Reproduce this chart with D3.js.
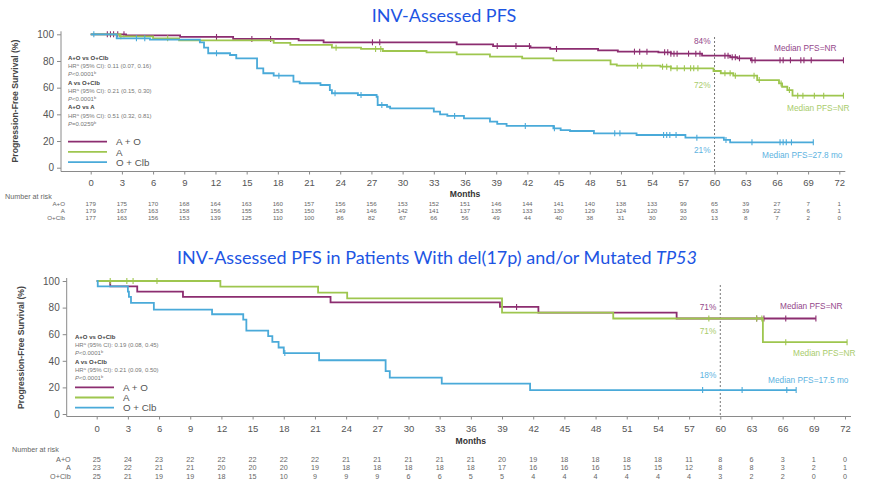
<!DOCTYPE html>
<html>
<head>
<meta charset="utf-8">
<script src="https://cdn.jsdelivr.net/npm/d3@7"></script>
<style>
body { margin: 0; background: #fff; }
svg text { font-family: "Liberation Sans", Arial, sans-serif; }
</style>
</head>
<body>
<div id="chart"></div>
<script>
'use strict'

////////////////////////////////////
//////////////// data //////////////
////////////////////////////////////

const months = [0, 3, 6, 9, 12, 15, 18, 21, 24, 27, 30, 33, 36, 39, 42, 45, 48, 51, 54, 57, 60, 63, 66, 69, 72]
const pctTicks = [0, 20, 40, 60, 80, 100]
const groups = ['A + O', 'A', 'O + Clb']
const riskLabels = ['A+O', 'A', 'O+Clb']

// top panel: all patients, [month, % PFS] at each step
const topAO = [[0,100],[3.4,99.2],[8.6,98],[13.7,96.5],[20,95.5],[22.4,94],[35.2,92.5],[38.7,91.2],[42.3,90],[44.2,89],[48.8,88],[50.7,87],[54.6,86.5],[55.8,85.5],[58.8,84],[61.5,82.8],[62.2,82],[63.5,80.5],[72.4,80.5]]
const topA = [[0,100],[2.8,98.5],[6,97],[8.5,95.5],[17.6,93.5],[19.2,92],[23.2,90],[26,89],[28.1,87.5],[32.3,86.5],[35.2,85],[38.4,83.2],[41.5,82],[44.5,80.5],[50,77.5],[50.6,76.5],[54.8,75.7],[55.8,74.5],[59.9,72.5],[60.6,70.8],[61.8,69],[64.1,65.7],[66.2,63.2],[66.5,60.7],[67,58.2],[67.5,54],[72.4,54]]
const topOC = [[0,100],[2.5,97],[5.7,96],[10.5,94],[10.9,90],[11.3,85.8],[13.4,84.5],[14,82],[16,74.5],[16.6,70.8],[17.6,69],[19.5,64.5],[20.1,63.3],[22.1,62],[23,58.2],[23.2,55.8],[25.7,54.5],[27.5,53.2],[27.6,47],[28.5,45.7],[28.8,44.5],[33,42],[33.6,40],[34.3,38.8],[35.9,37],[38.4,34.5],[39.1,32.8],[40,31.3],[44.5,29.5],[45.2,28.2],[46.1,27.5],[48.4,25.8],[52.5,24.5],[57.2,22.5],[60.9,20.8],[61.5,19],[69.5,19]]

const topAOCens = [1.6, 1.9, 2.2, 2.6, 3.2, 12.1, 15.5, 17.3, 27.1, 27.8, 39.1, 40.9, 42.2, 44.8, 52.3, 52.8, 53.5, 55.2, 55.5, 55.8, 56.1, 56.4, 57.5, 58.2, 58.6, 61, 61.3, 61.7, 62, 62.4, 63.6, 63.9, 66.3, 66.6, 67.3, 68.3, 68.6, 69.3, 72.4]
const topACens = [2.9, 7.4, 23.6, 27.4, 27.9, 52.6, 53, 55, 55.4, 55.8, 56.4, 57.1, 57.7, 58, 58.4, 61, 61.5, 62, 63.8, 64.3, 66.4, 67.2, 68, 68.5, 69.6, 70.5, 72.4]
const topOCCens = [0.3, 4.4, 5.2, 12.1, 18.1, 23.5, 26, 28, 35, 41.8, 44.6, 50.4, 50.9, 55.1, 55.4, 55.7, 56.3, 58.3, 61.1, 63.6, 66.3, 66.6, 66.9, 67.4, 69.5]

const topRiskAO = [179, 175, 170, 168, 164, 163, 160, 157, 156, 156, 153, 152, 151, 146, 144, 141, 140, 138, 133, 99, 65, 39, 27, 7, 1]
const topRiskA = [179, 167, 163, 158, 156, 155, 153, 150, 149, 146, 142, 141, 137, 135, 133, 130, 129, 124, 120, 93, 63, 39, 22, 6, 1]
const topRiskOC = [177, 163, 156, 153, 139, 125, 110, 100, 86, 82, 67, 66, 56, 49, 44, 40, 38, 31, 30, 20, 13, 8, 7, 2, 0]

const topStats = [
    ['A+O vs O+Clb', '0.11 (0.07, 0.16)', '<0.0001'],
    ['A vs O+Clb', '0.21 (0.15, 0.30)', '<0.0001'],
    ['A+O vs A', '0.51 (0.32, 0.81)', '=0.0259']
]
const topAt60 = ['84%', '72%', '21%']
const topMedian = ['Median PFS=NR', 'Median PFS=NR', 'Median PFS=27.8 mo']

// bottom panel: del(17p) and/or mutated TP53
const botAO = [[0,100],[1.3,96],[3.9,92],[8.3,88],[22.5,84],[38.8,80.5],[42.5,76.2],[55.8,71.8],[69.2,71.8]]
const botA = [[0,100],[11.9,95.7],[21.3,91.3],[24.1,87],[39,76.2],[49.7,71.8],[64.1,54],[72.2,54]]
const botOC = [[0,100],[0.1,96],[3,92],[3.1,88],[3.3,83.5],[5.5,78.5],[11.1,75],[14.1,71],[14.4,62.7],[16.5,58.5],[16.9,54.2],[17.5,50],[18,45.8],[21.4,40.4],[27.8,32.3],[28.2,27.3],[33.2,22.8],[41.7,18],[67.3,18]]

const botAOCens = [40.4, 63.5, 64.2, 66.3, 69.2]
const botACens = [1.3, 2.9, 3.5, 5.8, 58.9, 63.5, 64, 66.3, 72.2]
const botOCCens = [18.1, 58.3, 62.1, 66.4, 67.3]

const botRiskAO = [25, 24, 23, 22, 22, 22, 22, 22, 21, 21, 21, 21, 21, 20, 19, 18, 18, 18, 18, 11, 8, 6, 3, 1, 0]
const botRiskA = [23, 22, 21, 21, 20, 20, 20, 19, 18, 18, 18, 18, 18, 17, 16, 16, 16, 15, 15, 12, 8, 8, 3, 2, 1]
const botRiskOC = [25, 21, 19, 19, 18, 15, 10, 9, 9, 9, 6, 6, 5, 5, 4, 4, 4, 4, 4, 4, 3, 2, 2, 0, 0]

const botStats = [
    ['A+O vs O+Clb', '0.19 (0.08, 0.45)', '<0.0001'],
    ['A vs O+Clb', '0.21 (0.09, 0.50)', '<0.0001']
]
const botAt60 = ['71%', '71%', '18%']
const botMedian = ['Median PFS=NR', 'Median PFS=NR', 'Median PFS=17.5 mo']

////////////////////////////////////
/////////////// setup //////////////
////////////////////////////////////

const lineColors = ['#8c2d70', '#9ec64f', '#4aaad9']
const textColors = ['#94478a', '#a9cc6c', '#5db3df']

const svg = d3.select('#chart')
    .append('svg')
    .attr('width', 870)
    .attr('height', 483)

svg.append('text')
    .attr('x', 444).attr('y', 22)
    .attr('text-anchor', 'middle')
    .style('font-family', 'Lato, "Open Sans", sans-serif')
    .style('font-size', '18px')
    .attr('fill', '#1d55e3')
    .text('INV-Assessed PFS')

const t2 = svg.append('text')
    .attr('x', 437).attr('y', 264)
    .attr('text-anchor', 'middle')
    .style('font-family', 'Lato, "Open Sans", sans-serif')
    .style('font-size', '18px')
    .attr('fill', '#1d55e3')
t2.append('tspan').text('INV-Assessed PFS in Patients With del(17p) and/or Mutated ')
t2.append('tspan').style('font-style', 'italic').text('TP53')

function valueAt(curve, t) {
    let v = curve[0][1]
    curve.forEach(d => { if (d[0] <= t) v = d[1] })
    return v
}

function drawPanel(p) {
    const g = svg.append('g')

    const x = d3.scaleLinear().domain([0, 72]).range([p.x0, p.x1])
    const y = d3.scaleLinear().domain([0, 100]).range([p.yb, p.yt])

    // y axis
    const ya = g.append('g')
        .attr('transform', `translate(${p.axX},0)`)
        .call(d3.axisLeft(y).tickValues(pctTicks).tickSize(4).tickPadding(3))
    ya.select('.domain').remove()
    ya.selectAll('line').attr('stroke', '#8a8a8a')
    ya.selectAll('text').attr('fill', '#555').style('font-size', '10px')
    g.append('line')
        .attr('x1', p.axX).attr('x2', p.axX)
        .attr('y1', y(100) - 3).attr('y2', p.axY)
        .attr('stroke', '#8a8a8a')

    g.append('text')
        .attr('transform', `translate(${p.axX - 43},${(y(0) + y(100)) / 2}) rotate(-90)`)
        .attr('text-anchor', 'middle')
        .style('font-size', '8.6px')
        .style('font-weight', 'bold')
        .attr('fill', '#444')
        .text('Progression-Free Survival (%)')

    // x axis
    const xa = g.append('g')
        .attr('transform', `translate(0,${p.axY})`)
        .call(d3.axisBottom(x).tickValues(months).tickSize(3).tickPadding(p.tickPad))
    xa.select('.domain').remove()
    xa.selectAll('line').attr('stroke', '#8a8a8a')
    xa.selectAll('text').attr('fill', '#555').style('font-size', '9.5px')
    g.append('line')
        .attr('x1', p.axX).attr('x2', x(72) + 6)
        .attr('y1', p.axY).attr('y2', p.axY)
        .attr('stroke', '#8a8a8a')

    g.append('text')
        .attr('x', x(36)).attr('y', p.monthsY)
        .attr('text-anchor', 'middle')
        .style('font-size', '8.6px')
        .style('font-weight', 'bold')
        .attr('fill', '#333')
        .text('Months')

    // landmark at 60 months
    g.append('line')
        .attr('x1', x(60)).attr('x2', x(60))
        .attr('y1', p.dotTop).attr('y2', p.axY)
        .attr('stroke', '#777')
        .attr('stroke-width', 1)
        .attr('stroke-dasharray', '2,2')

    // curves
    const line = d3.line()
        .x(d => x(d[0]))
        .y(d => y(d[1]))
        .curve(d3.curveStepAfter)

    p.series.forEach((s, i) => {
        g.append('path')
            .datum(s.curve)
            .attr('d', line)
            .attr('fill', 'none')
            .attr('stroke', lineColors[i])
            .attr('stroke-width', 1.8)

        g.selectAll(null)
            .data(s.cens)
            .join('line')
            .attr('x1', d => x(d)).attr('x2', d => x(d))
            .attr('y1', d => y(valueAt(s.curve, d)) - 3)
            .attr('y2', d => y(valueAt(s.curve, d)) + 3)
            .attr('stroke', lineColors[i])
            .attr('stroke-width', 1.1)
    })

    // 60-month and median labels
    p.at60.forEach((t, i) => {
        g.append('text')
            .attr('x', x(60) - 4).attr('y', p.at60Y[i])
            .attr('text-anchor', 'end')
            .style('font-size', '8.3px')
            .attr('fill', textColors[i])
            .text(t)
        g.append('text')
            .attr('x', p.medX[i]).attr('y', p.medY[i])
            .style('font-size', '8.3px')
            .attr('fill', textColors[i])
            .text(p.median[i])
    })

    // stats box
    p.stats.forEach((s, i) => {
        const y0 = p.statY + i * 24.7
        g.append('text')
            .attr('x', p.legX).attr('y', y0)
            .style('font-size', '6px')
            .style('font-weight', 'bold')
            .attr('fill', '#444')
            .text(s[0])
        const hr = g.append('text')
            .attr('x', p.legX).attr('y', y0 + 8.3)
            .style('font-size', '6px')
            .attr('fill', '#777')
        hr.append('tspan').text('HR')
        hr.append('tspan').attr('dy', -2).style('font-size', '4px').text('a')
        hr.append('tspan').attr('dy', 2).text(' (95% CI): ' + s[1])
        const pv = g.append('text')
            .attr('x', p.legX).attr('y', y0 + 16.3)
            .style('font-size', '6px')
            .attr('fill', '#777')
        pv.append('tspan').style('font-style', 'italic').text('P')
        pv.append('tspan').text(s[2])
        pv.append('tspan').attr('dy', -2).style('font-size', '4px').text('b')
    })

    // legend
    groups.forEach((name, i) => {
        const ly = p.legY + i * 10.2
        g.append('line')
            .attr('x1', p.legX).attr('x2', p.legX + 39)
            .attr('y1', ly).attr('y2', ly)
            .attr('stroke', lineColors[i])
            .attr('stroke-width', 1.8)
        g.append('text')
            .attr('x', p.legX + 48).attr('y', ly + 3.6)
            .style('font-size', '9.8px')
            .attr('fill', '#555')
            .text(name)
    })

    // number at risk
    g.append('text')
        .attr('x', p.narX).attr('y', p.narY)
        .style('font-size', '7.2px')
        .attr('fill', '#666')
        .text('Number at risk')

    p.series.forEach((s, i) => {
        const ry = p.narY + p.narStep * (i + 1) + 1
        g.append('text')
            .attr('x', p.axX + 4).attr('y', ry)
            .attr('text-anchor', 'end')
            .style('font-size', p.narFont)
            .attr('fill', '#666')
            .text(riskLabels[i])
        g.selectAll(null)
            .data(s.risk)
            .join('text')
            .attr('x', (d, j) => x(months[j]))
            .attr('y', ry)
            .attr('text-anchor', 'middle')
            .style('font-size', p.narFont)
            .attr('fill', '#666')
            .text(d => d)
    })
}

drawPanel({
    x0: 90.7, x1: 839.3, yt: 34.3, yb: 167.7,
    axX: 61, axY: 171.5, tickPad: 5, monthsY: 196.5, dotTop: 37,
    series: [
        {curve: topAO, cens: topAOCens, risk: topRiskAO},
        {curve: topA, cens: topACens, risk: topRiskA},
        {curve: topOC, cens: topOCCens, risk: topRiskOC}
    ],
    at60: topAt60, at60Y: [44, 88, 153],
    median: topMedian, medX: [774, 787, 762], medY: [51, 111, 158],
    stats: topStats, statY: 60, legX: 68, legY: 141.7,
    narX: 5, narY: 198.5, narStep: 6.7, narFont: '6.2px'
})

drawPanel({
    x0: 96.7, x1: 845, yt: 281, yb: 414,
    axX: 66.7, axY: 416.5, tickPad: 6, monthsY: 444, dotTop: 285,
    series: [
        {curve: botAO, cens: botAOCens, risk: botRiskAO},
        {curve: botA, cens: botACens, risk: botRiskA},
        {curve: botOC, cens: botOCCens, risk: botRiskOC}
    ],
    at60: botAt60, at60Y: [309.5, 333.5, 378],
    median: botMedian, medX: [780, 793, 768], medY: [309, 356, 383],
    stats: botStats, statY: 339, legX: 75, legY: 387.3,
    narX: 12, narY: 452, narStep: 8.7, narFont: '7.2px'
})
</script>
</body>
</html>
